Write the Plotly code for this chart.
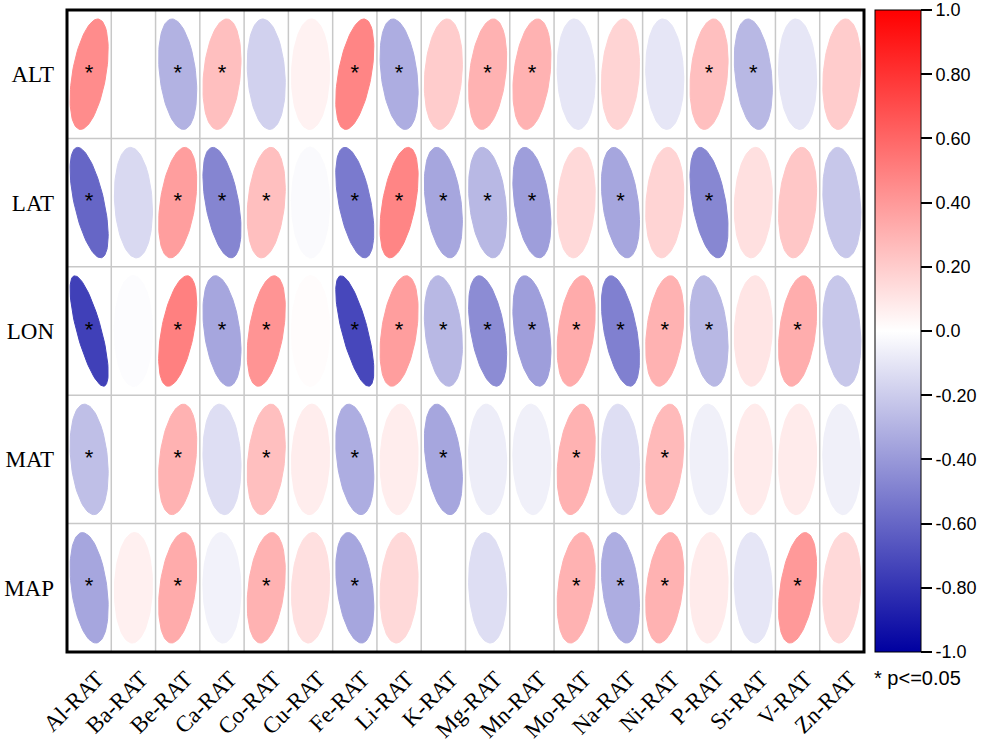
import numpy as np
import plotly.graph_objects as go
from plotly.colors import sample_colorscale

columns = ["Al-RAT", "Ba-RAT", "Be-RAT", "Ca-RAT", "Co-RAT", "Cu-RAT", "Fe-RAT", "Li-RAT", "K-RAT",
           "Mg-RAT", "Mn-RAT", "Mo-RAT", "Na-RAT", "Ni-RAT", "P-RAT", "Sr-RAT", "V-RAT", "Zn-RAT"]
rows = ["ALT", "LAT", "LON", "MAT", "MAP"]

# correlation coefficients (None = not shown)
r_ALT = [0.45, None, -0.30, 0.25, -0.18, 0.05, 0.48, -0.32, 0.20, 0.30, 0.30, -0.10, 0.17, -0.10, 0.25, -0.28, -0.10, 0.20]
r_LAT = [-0.60, -0.15, 0.38, -0.48, 0.25, -0.02, -0.52, 0.48, -0.35, -0.28, -0.38, 0.15, -0.35, 0.17, -0.47, 0.12, 0.22, -0.22]
r_LON = [-0.75, -0.01, 0.50, -0.35, 0.42, 0.01, -0.72, 0.38, -0.28, -0.45, -0.38, 0.33, -0.50, 0.30, -0.28, 0.10, 0.32, -0.22]
r_MAT = [-0.25, None, 0.30, -0.13, 0.25, 0.07, -0.32, 0.07, -0.35, -0.07, -0.06, 0.30, -0.13, 0.27, -0.06, 0.08, 0.08, -0.06]
r_MAP = [-0.35, 0.06, 0.33, -0.05, 0.30, 0.12, -0.35, 0.15, None, -0.13, None, 0.30, -0.32, 0.30, 0.08, -0.10, 0.40, 0.15]

# significance flags (p <= 0.05)
s_ALT = [1, 0, 1, 1, 0, 0, 1, 1, 0, 1, 1, 0, 0, 0, 1, 1, 0, 0]
s_LAT = [1, 0, 1, 1, 1, 0, 1, 1, 1, 1, 1, 0, 1, 0, 1, 0, 0, 0]
s_LON = [1, 0, 1, 1, 1, 0, 1, 1, 1, 1, 1, 1, 1, 1, 1, 0, 1, 0]
s_MAT = [1, 0, 1, 0, 1, 0, 1, 0, 1, 0, 0, 1, 0, 1, 0, 0, 0, 0]
s_MAP = [1, 0, 1, 0, 1, 0, 1, 0, 0, 0, 0, 1, 1, 1, 0, 0, 1, 0]

r_rows = [r_ALT, r_LAT, r_LON, r_MAT, r_MAP]
s_rows = [s_ALT, s_LAT, s_LON, s_MAT, s_MAP]

cbar_vals = [1.0, 0.8, 0.6, 0.4, 0.2, 0.0, -0.2, -0.4, -0.6, -0.8, -1.0]
cbar_text = ["1.0", "0.80", "0.60", "0.40", "0.20", "0.0", "-0.20", "-0.40", "-0.60", "-0.80", "-1.0"]

cscale = [[0.0, "rgb(0,0,160)"], [0.5, "rgb(255,255,255)"], [1.0, "rgb(255,0,0)"]]

fig = go.Figure()

nrow = len(rows)
ncol = len(columns)
half = 0.43
t = np.linspace(0, 2 * np.pi, 90)
star_x, star_y = [], []
for i, (rvals, svals) in enumerate(zip(r_rows, s_rows)):
    cy = nrow - 1 - i
    for j, r in enumerate(rvals):
        if r is None:
            continue
        d = np.arccos(r)
        ex = j + half * np.cos(t + d / 2)
        ey = cy + half * np.cos(t - d / 2)
        col = sample_colorscale(cscale, [(r + 1) / 2])[0]
        fig.add_trace(go.Scatter(x=ex, y=ey, mode="lines", fill="toself", fillcolor=col,
                                 line=dict(color=col, width=1), hoverinfo="skip", showlegend=False))
        if svals[j]:
            star_x.append(j)
            star_y.append(cy)

fig.add_trace(go.Scatter(x=star_x, y=star_y, mode="text", text=["*"] * len(star_x),
                         textposition="middle center",
                         textfont=dict(family="Arial, Liberation Sans", size=22, color="black"),
                         hoverinfo="skip", showlegend=False))

# colorbar carrier
fig.add_trace(go.Scatter(x=[None], y=[None], mode="markers",
                         marker=dict(color=[0], cmin=-1.0001, cmax=1.0001, colorscale=cscale, showscale=True,
                                     colorbar=dict(x=(875 - 67) / 797, xanchor="left", thickness=46,
                                                   len=1, y=0.5, yanchor="middle", xpad=0, ypad=0,
                                                   outlinewidth=1, outlinecolor="black",
                                                   tickvals=cbar_vals, ticktext=cbar_text,
                                                   ticklabeloverflow="allow",
                                                   ticks="outside", ticklen=11, tickwidth=2, tickcolor="black",
                                                   tickfont=dict(family="Arial, Liberation Sans", size=18, color="black"))),
                         hoverinfo="skip", showlegend=False))

# carrier for the label axis (shifted slightly to the right, like the reference)
fig.add_trace(go.Scatter(x=[None], y=[None], xaxis="x2", yaxis="y", mode="markers",
                         hoverinfo="skip", showlegend=False))

shapes = []
for k in range(ncol - 1):
    shapes.append(dict(type="line", xref="x", yref="y", x0=k + 0.5, x1=k + 0.5, y0=-0.5, y1=nrow - 0.5,
                       line=dict(color="rgb(200,200,200)", width=1.5), layer="below"))
for k in range(nrow - 1):
    shapes.append(dict(type="line", xref="x", yref="y", x0=-0.5, x1=ncol - 0.5, y0=k + 0.5, y1=k + 0.5,
                       line=dict(color="rgb(200,200,200)", width=1.5), layer="below"))
shapes.append(dict(type="rect", xref="paper", yref="paper", x0=0, x1=1, y0=0, y1=1,
                   line=dict(color="black", width=3)))

shift = 8 / (797 / ncol)

fig.update_layout(
    width=982, height=746,
    margin=dict(l=67, r=118, t=10, b=94, autoexpand=False),
    plot_bgcolor="white", paper_bgcolor="white",
    shapes=shapes,
    xaxis=dict(range=[-0.5, ncol - 0.5], showticklabels=False, showgrid=False, zeroline=False,
               ticks="", automargin=False),
    xaxis2=dict(range=[-0.5 - shift, ncol - 0.5 - shift], overlaying="x", side="bottom", anchor="y",
                tickvals=list(range(ncol)), ticktext=columns,
                tickangle=-45, showgrid=False, zeroline=False, ticks="", ticklabelstandoff=8, automargin=False,
                tickfont=dict(family="Times New Roman, Liberation Serif", size=23, color="black")),
    yaxis=dict(range=[-0.5, nrow - 0.5], tickvals=list(range(nrow)), ticktext=rows[::-1],
               showgrid=False, zeroline=False, ticks="", ticklabelstandoff=12, automargin=False,
               tickfont=dict(family="Times New Roman, Liberation Serif", size=23, color="black")),
    annotations=[dict(text="* p<=0.05", xref="paper", yref="paper", x=(917 - 67) / 797,
                      y=-26 / 642, xanchor="center", yanchor="middle", showarrow=False,
                      font=dict(family="Arial, Liberation Sans", size=20, color="black"))],
)

fig.write_html("out.html", config={"displayModeBar": False},
               post_script="document.body.style.margin='0px';document.body.style.overflow='hidden';")
